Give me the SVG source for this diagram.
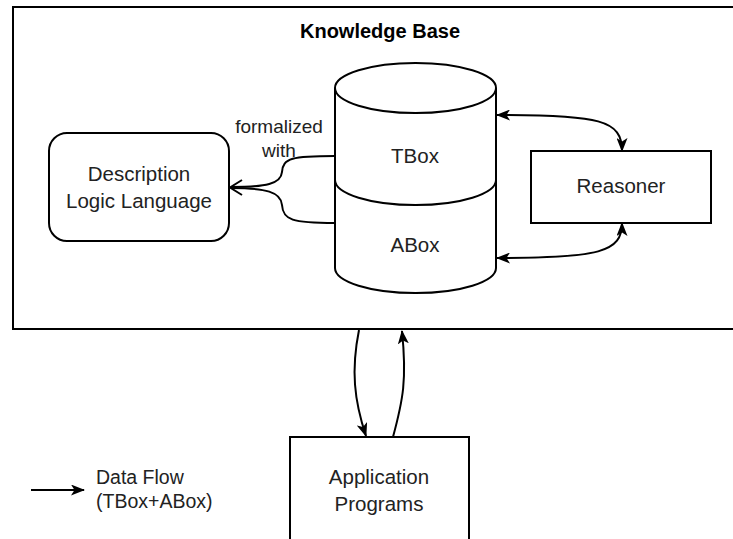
<svg xmlns="http://www.w3.org/2000/svg" width="733" height="539" viewBox="0 0 733 539">
<style>
.shape{fill:#fff;stroke:#000;stroke-width:2}
.line{fill:none;stroke:#000;stroke-width:2}
.t{font-family:"Liberation Sans",Arial,sans-serif;font-size:20.5px;fill:#222;text-anchor:middle}
.b{font-weight:bold;fill:#000}
</style>
<defs>
<marker id="arr" viewBox="0 0 14 11" refX="13" refY="5.5" markerWidth="14" markerHeight="11" markerUnits="userSpaceOnUse" orient="auto-start-reverse">
<path d="M0,0 L14,5.5 L0,11 L3.5,5.5 Z" fill="#000"/>
</marker>
</defs>
<rect width="733" height="539" fill="#fff"/>
<g id="knowledge-base">
<path class="shape" d="M745 7 H13 V329 H745"/>
<text class="t b" x="380" y="38" style="font-size:20px">Knowledge Base</text>
</g>
<g id="dl-language">
<rect class="shape" x="49" y="133" width="180" height="108" rx="18"/>
<text class="t" x="139" y="181">Description</text>
<text class="t" x="139" y="208">Logic Language</text>
</g>
<g id="kb-store">
<path class="shape" d="M335 88 A80.5 25 0 0 1 496 88 V268 A80.5 25 0 0 1 335 268 Z"/>
<path class="line" d="M335 88 A80.5 25 0 0 0 496 88"/>
<path class="line" d="M335 180 A80.5 25 0 0 0 496 180"/>
<text class="t" x="415" y="163">TBox</text>
<text class="t" x="415" y="252">ABox</text>
</g>
<g id="reasoner">
<rect class="shape" x="531" y="151" width="180" height="72"/>
<text class="t" x="621" y="193">Reasoner</text>
</g>
<g id="app-programs">
<rect class="shape" x="290" y="437" width="179" height="120"/>
<text class="t" x="379" y="484">Application</text>
<text class="t" x="379" y="511">Programs</text>
</g>
<g id="legend">
<text class="t" x="96" y="484" style="text-anchor:start;font-size:19.5px">Data Flow</text>
<text class="t" x="96" y="508" style="text-anchor:start;font-size:19.5px">(TBox+ABox)</text>
</g>
<g id="connectors">
<path class="line" d="M335 156 C292 156 283 158 282 172 C281 184 266 187 231 187"/>
<path class="line" d="M335 223 C292 223 283 220 282 205 C281 192 266 188 231 188"/>
<path class="line" d="M242 180 L230 187.5 L242 195"/>
<text class="t" x="279" y="133" style="font-size:19px">formalized</text>
<text class="t" x="279" y="157" style="font-size:19px">with</text>
<path class="line" d="M497 115 C600 115 622 120 622 151" marker-start="url(#arr)" marker-end="url(#arr)"/>
<path class="line" d="M497 258 C600 258 622 252 622 223" marker-start="url(#arr)" marker-end="url(#arr)"/>
<path class="line" d="M359 330 C351 370 354 400 366 436" marker-end="url(#arr)"/>
<path class="line" d="M393 437 C403 400 407 380 402 331" marker-end="url(#arr)"/>
<path class="line" d="M31 490 H84" marker-end="url(#arr)"/>
</g>
</svg>
